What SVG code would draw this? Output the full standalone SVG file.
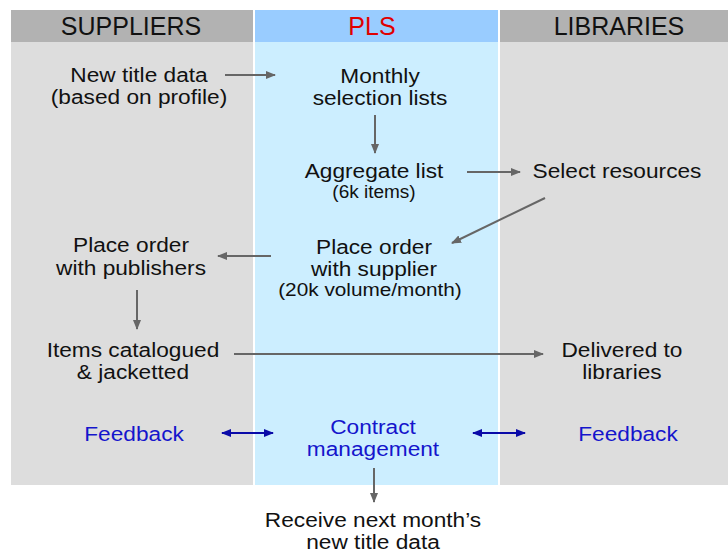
<svg xmlns="http://www.w3.org/2000/svg" width="728" height="553" viewBox="0 0 728 553">
<style>
text{font-family:"Liberation Sans",Arial,sans-serif;font-size:21px;fill:#111;text-anchor:middle}
.hd{font-size:25px}
.sm{font-size:17.6px}
.bl{fill:#1515cc}
.red{fill:#e00000}
.cn{stroke:#666;stroke-width:2;fill:none;marker-end:url(#ah)}
.bc{stroke:#0a0aa8;stroke-width:2;fill:none;marker-end:url(#bh);marker-start:url(#bh)}
</style>
<defs>
<marker id="ah" viewBox="0 0 10 10" refX="9" refY="5" markerWidth="5" markerHeight="5" orient="auto" markerUnits="strokeWidth"><path d="M0,1 L10,5 L0,9 z" fill="#666"/></marker>
<marker id="bh" viewBox="0 0 10 10" refX="9" refY="5" markerWidth="5" markerHeight="5" orient="auto-start-reverse" markerUnits="strokeWidth"><path d="M0,1 L10,5 L0,9 z" fill="#0a0aa8"/></marker>
</defs>
<rect width="728" height="553" fill="#fff"/>
<g id="columns">
<rect x="11" y="10" width="242" height="32" fill="#b2b2b2"/>
<rect x="11" y="42" width="242" height="443" fill="#dddddd"/>
<rect x="255" y="10" width="243" height="32" fill="#99ccff"/>
<rect x="255" y="42" width="243" height="443" fill="#cceeff"/>
<rect x="500" y="10" width="228" height="32" fill="#b2b2b2"/>
<rect x="500" y="42" width="228" height="443" fill="#dddddd"/>
<text class="hd" x="131" y="35">SUPPLIERS</text>
<text class="hd red" x="372" y="35">PLS</text>
<text class="hd" x="619" y="35">LIBRARIES</text>
</g>
<g id="connectors">
<line class="cn" x1="225" y1="75" x2="275" y2="75"/>
<line class="cn" x1="375" y1="115" x2="375" y2="153"/>
<line class="cn" x1="467" y1="172" x2="520" y2="172"/>
<line class="cn" x1="545" y1="198" x2="452" y2="243"/>
<line class="cn" x1="271" y1="256" x2="218" y2="256"/>
<line class="cn" x1="137" y1="290" x2="137" y2="329"/>
<line class="cn" x1="234" y1="354" x2="543" y2="354"/>
<line class="bc" x1="222" y1="433" x2="273" y2="433"/>
<line class="bc" x1="473" y1="433" x2="525" y2="433"/>
<line class="cn" x1="374" y1="468" x2="374" y2="502"/>
</g>
<g id="nodes" transform="scale(1.08 1)">
<g id="new-title-data"><text x="128.7" y="82">New title data</text><text x="128.7" y="104">(based on profile)</text></g>
<g id="monthly-lists"><text x="351.9" y="83">Monthly</text><text x="351.9" y="105">selection lists</text></g>
<g id="aggregate-list"><text x="346.3" y="178">Aggregate list</text><text class="sm" x="346.3" y="198">(6k items)</text></g>
<g id="select-resources"><text x="571.3" y="178">Select resources</text></g>
<g id="place-order-supplier"><text x="346.3" y="254">Place order</text><text x="346.3" y="276">with supplier</text><text class="sm" x="342.6" y="296" textLength="170" lengthAdjust="spacingAndGlyphs">(20k volume/month)</text></g>
<g id="place-order-publishers"><text x="121.3" y="252">Place order</text><text x="121.3" y="275">with publishers</text></g>
<g id="items-catalogued"><text x="123.1" y="357">Items catalogued</text><text x="123.1" y="379">&amp; jacketted</text></g>
<g id="delivered"><text x="575.9" y="357">Delivered to</text><text x="575.9" y="379">libraries</text></g>
<g id="feedback-suppliers"><text class="bl" x="124.1" y="441">Feedback</text></g>
<g id="contract-management"><text class="bl" x="345.4" y="434">Contract</text><text class="bl" x="345.4" y="456">management</text></g>
<g id="feedback-libraries"><text class="bl" x="581.5" y="441">Feedback</text></g>
<g id="receive-next"><text x="345.4" y="527">Receive next month’s</text><text x="345.4" y="549">new title data</text></g>
</g>
</svg>
